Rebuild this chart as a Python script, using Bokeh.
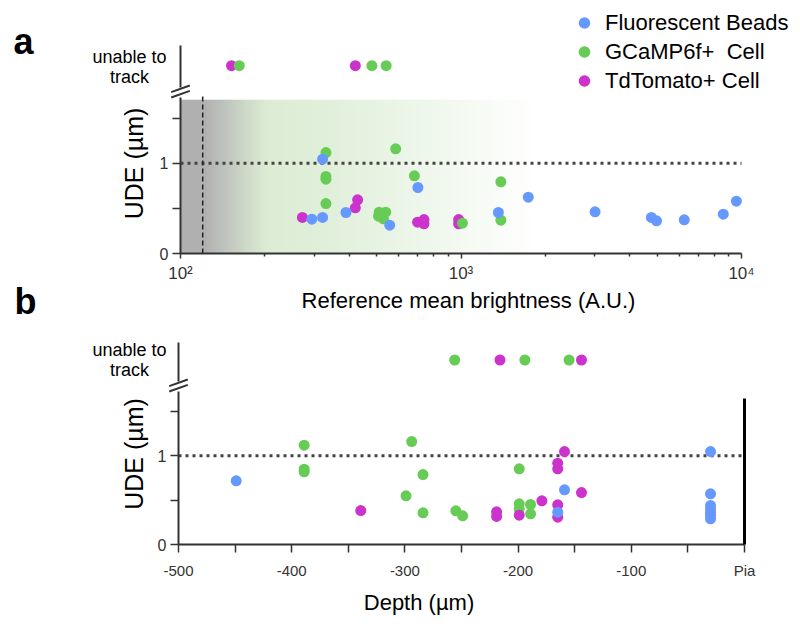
import math
from bokeh.plotting import figure
from bokeh.layouts import column
from bokeh.models import FixedTicker, Label, Legend, LegendItem, LinearAxis
from bokeh.embed import file_html
from bokeh.resources import INLINE

# ---------------- data ----------------
# Panel a: reference mean brightness (A.U.) vs UDE (um)
beads_a_brightness = [321, 702, 294, 321, 389, 557, 1737, 1359, 3006, 4771, 4979, 6250, 8610, 9590]
beads_a_ude = [1.044, 0.731, 0.380, 0.399, 0.454, 0.314, 0.624, 0.454, 0.462, 0.399, 0.362, 0.373, 0.435, 0.579]
gcamp_a_brightness = [330, 585, 330, 330, 682, 330, 511, 539, 508, 529, 1012, 1387, 1387]
gcamp_a_ude = [1.118, 1.159, 0.853, 0.823, 0.860, 0.553, 0.457, 0.457, 0.413, 0.384, 0.336, 0.794, 0.369]
tdt_a_brightness = [428, 420, 272, 700, 738, 738, 981, 981]
tdt_a_ude = [0.595, 0.506, 0.399, 0.347, 0.376, 0.329, 0.376, 0.329]
gcamp_a_untracked = [162, 481, 541]
tdt_a_untracked = [152, 420]

# Panel b: depth (um) vs UDE (um)
beads_b_depth = [-449, -165, -159, -30, -30, -30, -30, -30, -30, -30]
beads_b_ude = [0.718, 0.364, 0.617, 1.048, 0.571, 0.44, 0.40, 0.36, 0.33, 0.29]
gcamp_b_depth = [-389, -389, -389, -294, -284, -299, -284, -255, -249, -199, -199, -199, -189, -189]
gcamp_b_ude = [1.12, 0.849, 0.82, 1.161, 0.789, 0.549, 0.357, 0.38, 0.323, 0.853, 0.459, 0.40, 0.451, 0.346]
tdt_b_depth = [-339, -219, -219, -199, -179, -165, -165, -165, -165, -159, -144]
tdt_b_ude = [0.383, 0.368, 0.316, 0.33, 0.492, 0.447, 0.308, 0.917, 0.853, 1.048, 0.586]
gcamp_b_untracked = [-256, -194, -155]
tdt_b_untracked = [-216, -144]

UNTRACKED_LEVEL = 2.08          # axis position of the "unable to track" row
UDE_THRESHOLD = 1.0
BRIGHTNESS_THRESHOLD = 120
A_XLIM = (100, 10000)
B_XLIM = (-500, 0)
a_major_ticks = [100, 1000, 10000]
a_major_labels = ["10\u00b2", "10\u00b3", "10\u2074"]
b_ticks = list(range(-500, 1, 50))
ude_ticks = [0, 0.5, 1, 1.5]

# ---------------- style / geometry (page pixels) ----------------
BLUE, GREEN, MAGENTA = "#6699ff", "#66cc55", "#cc33cc"
FONT = "Liberation Sans"
AXIS = "#333333"
W = 792
A_TOP, A_END = 0, 330
B_END = 622
PA_LEFT, PA_RIGHT = 180, 741
PB_LEFT, PB_RIGHT = 178, 744
A_ZERO, A_PPU = 253, 90.3
B_ZERO, B_PPU = 544, 88.7
MS = 11


def ax(px):
    return 10 ** (2 + 2 * (px - PA_LEFT) / (PA_RIGHT - PA_LEFT))


def bx(px):
    return -500 + 500 * (px - PB_LEFT) / (PB_RIGHT - PB_LEFT)


def ay(py):
    return (A_ZERO - py) / A_PPU


def by(py):
    return (B_ZERO - py) / B_PPU


def label(p, x, y, text, size, align="center", baseline="middle", angle=0.0,
          style="normal", color="black"):
    p.add_layout(Label(x=x, y=y, text=text, text_font=FONT, text_font_size=f"{size}px",
                       text_align=align, text_baseline=baseline, angle=angle,
                       text_font_style=style, text_color=color))


def base_fig(height, **kw):
    p = figure(width=W, height=height, min_border_top=0, min_border_bottom=0,
               min_border_left=0, min_border_right=0, output_backend="svg",
               toolbar_location=None, title=None, **kw)
    p.outline_line_color = None
    p.grid.visible = False
    p.border_fill_color = "white"
    return p


def style_axis(a, tick_out, font_size, standoff):
    a.axis_line_color = AXIS
    a.axis_line_width = 2
    a.major_tick_line_color = AXIS
    a.major_tick_line_width = 1.5
    a.major_tick_out = tick_out
    a.major_tick_in = 0
    a.minor_tick_line_color = None
    a.major_label_text_font = FONT
    a.major_label_text_font_size = f"{font_size}px"
    a.major_label_text_color = AXIS
    a.major_label_standoff = standoff


def y_axes(p, xloc, ytop_main, break_lo, break_hi, ytop):
    ya = p.yaxis[0]
    ya.fixed_location = xloc
    ya.bounds = (0, ytop_main)
    ya.ticker = FixedTicker(ticks=ude_ticks)
    ya.major_label_overrides = {0.5: "", 1.5: ""}
    style_axis(ya, 8, 16, 4)
    upper = LinearAxis(fixed_location=xloc, bounds=(break_hi, ytop), ticker=FixedTicker(ticks=[]),
                       axis_line_color=AXIS, axis_line_width=2, major_tick_line_color=None,
                       minor_tick_line_color=None, major_label_text_font_size="0px")
    p.add_layout(upper, "left")


def break_marks(p, xs, ys):
    # two short slanted strokes across the broken y axis
    (x0, x1), centers = xs, ys
    p.segment(x0=[x0] * 2, x1=[x1] * 2, y0=[c - 0.037 for c in centers],
              y1=[c + 0.037 for c in centers], line_color=AXIS, line_width=2)


# ================= Panel a =================
pa = base_fig(A_END - A_TOP, x_axis_type="log", x_range=(ax(0), ax(W)),
              y_range=(ay(A_END), ay(A_TOP)))

# background gradient (gray -> green -> white)
stops = [(180, (176, 176, 176)), (203, (176, 176, 176)), (265, (220, 236, 212)),
         (320, (223, 239, 217)), (537, (255, 255, 255))]
lefts, rights, cols = [], [], []
px = 180
while px < 537:
    for (p0, c0), (p1, c1) in zip(stops[:-1], stops[1:]):
        if p0 <= px < p1:
            t = (px - p0) / (p1 - p0)
            c = tuple(int(round(a + (b - a) * t)) for a, b in zip(c0, c1))
            break
    lefts.append(ax(px))
    rights.append(ax(min(px + 2.6, 537)))
    cols.append("#%02x%02x%02x" % c)
    px += 2
pa.quad(left=lefts, right=rights, bottom=0, top=ay(99.3), fill_color=cols, line_color=None)

pa.segment(x0=[A_XLIM[0]], x1=[A_XLIM[1]], y0=[UDE_THRESHOLD], y1=[UDE_THRESHOLD],
           line_dash="3 4", line_width=3, line_color="#444444")
pa.segment(x0=[BRIGHTNESS_THRESHOLD], x1=[BRIGHTNESS_THRESHOLD], y0=[0], y1=[ay(95)],
           line_dash="5 3", line_width=1.5, line_color="#222222")

r_tt = pa.scatter(tdt_a_brightness + tdt_a_untracked,
                  tdt_a_ude + [UNTRACKED_LEVEL] * len(tdt_a_untracked),
                  size=MS, fill_color=MAGENTA, line_color=None)
r_tg = pa.scatter(gcamp_a_brightness + gcamp_a_untracked,
                  gcamp_a_ude + [UNTRACKED_LEVEL] * len(gcamp_a_untracked),
                  size=MS, fill_color=GREEN, line_color=None)
r_tb = pa.scatter(beads_a_brightness, beads_a_ude, size=MS, fill_color=BLUE, line_color=None)

xa = pa.xaxis[0]
xa.fixed_location = 0
xa.bounds = A_XLIM
xa.ticker = FixedTicker(ticks=a_major_ticks,
                        minor_ticks=[m * t for t in a_major_ticks[:-1] for m in range(2, 10)])
xa.major_label_overrides = dict(zip(a_major_ticks, a_major_labels))
style_axis(xa, 5, 17, 5)
xa.minor_tick_line_color = AXIS
xa.minor_tick_line_width = 1.5
xa.minor_tick_out = 3
xa.minor_tick_in = 0

y_axes(pa, A_XLIM[0], ay(97), ay(97), ay(87), ay(45))
break_marks(pa, (ax(170.7), ax(189.3)), (ay(88.3), ay(93.7)))

label(pa, ax(13), ay(41), "a", 36, align="left", baseline="alphabetic", style="bold")
label(pa, ax(14), ay(301), "b", 36, align="left", baseline="alphabetic", style="bold")
label(pa, ax(129), ay(56.5), "unable to", 18)
label(pa, ax(129), ay(76.5), "track", 18)
label(pa, ax(468), ay(300), "Reference mean brightness (A.U.)", 22)
label(pa, ax(133), ay(163), "UDE (\u00b5m)", 25, angle=math.pi / 2)

legend = Legend(items=[LegendItem(label="Fluorescent Beads", renderers=[r_tb]),
                       LegendItem(label="GCaMP6f+  Cell", renderers=[r_tg]),
                       LegendItem(label="TdTomato+ Cell", renderers=[r_tt])],
                location=(566, A_END - 95), glyph_width=36, glyph_height=29,
                label_standoff=3, spacing=0, padding=0, margin=0, border_line_color=None,
                background_fill_alpha=0, label_text_font=FONT, label_text_font_size="22px",
                label_height=29, label_text_color="black")
pa.add_layout(legend)

# ================= Panel b =================
pb = base_fig(B_END - A_END, x_range=(bx(0), bx(W)), y_range=(by(B_END), by(A_END)))
pb.segment(x0=[B_XLIM[0]], x1=[B_XLIM[1]], y0=[UDE_THRESHOLD], y1=[UDE_THRESHOLD],
           line_dash="3 4", line_width=3, line_color="#444444")
pb.scatter(gcamp_b_depth + gcamp_b_untracked,
           gcamp_b_ude + [UNTRACKED_LEVEL] * len(gcamp_b_untracked),
           size=MS, fill_color=GREEN, line_color=None)
pb.scatter(tdt_b_depth + tdt_b_untracked,
           tdt_b_ude + [UNTRACKED_LEVEL] * len(tdt_b_untracked),
           size=MS, fill_color=MAGENTA, line_color=None)
pb.scatter(beads_b_depth, beads_b_ude, size=MS, fill_color=BLUE, line_color=None)

xb = pb.xaxis[0]
xb.fixed_location = 0
xb.bounds = B_XLIM
xb.ticker = FixedTicker(ticks=b_ticks)
xb.major_label_overrides = {t: ("Pia" if t == 0 else ("" if t % 100 else str(t))) for t in b_ticks}
style_axis(xb, 8, 15, 9)

y_axes(pb, B_XLIM[0], by(391), by(391), by(381), by(342))
break_marks(pb, (bx(168.7), bx(187.3)), (by(382.3), by(387.7)))
pia_axis = LinearAxis(fixed_location=B_XLIM[1], bounds=(0, by(398)), ticker=FixedTicker(ticks=[]),
                      axis_line_color="black", axis_line_width=3, major_tick_line_color=None,
                      minor_tick_line_color=None, major_label_text_font_size="0px")
pb.add_layout(pia_axis, "right")

label(pb, bx(129), by(349), "unable to", 18)
label(pb, bx(129), by(369.5), "track", 18)
label(pb, bx(418.5), by(602), "Depth (\u00b5m)", 22)
label(pb, bx(133), by(453.5), "UDE (\u00b5m)", 25, angle=math.pi / 2)

layout = column(pa, pb, spacing=0)
open("out.html", "w").write(file_html(layout, INLINE))
